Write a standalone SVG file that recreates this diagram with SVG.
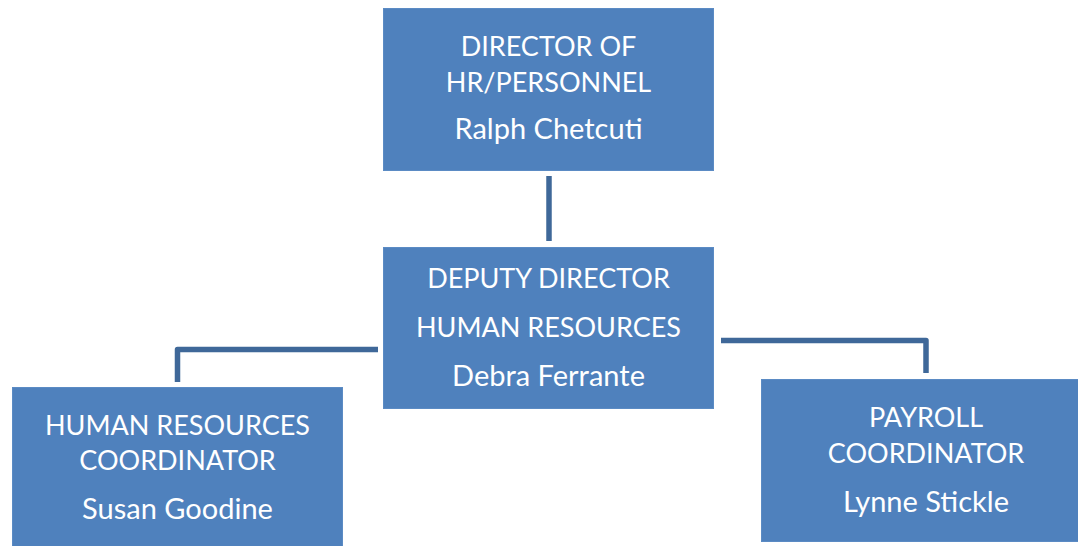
<svg xmlns="http://www.w3.org/2000/svg" width="1078" height="546" viewBox="0 0 1078 546">
<style>
.box{fill:#4F81BD;stroke:#5B8BC4;stroke-width:1}
.t{font-family:Lato,"Open Sans","Liberation Sans",sans-serif;font-size:27px;fill:#FFFFFF;text-anchor:middle}
.n{font-size:29px}
.c{fill:none;stroke:#3F6899;stroke-width:5.5;stroke-linejoin:round}
</style>
<rect width="1078" height="546" fill="#FFFFFF"/>
<g id="connectors">
<path class="c" d="M549 176 V241"/>
<path class="c" d="M378 349.5 H177.5 V382"/>
<path class="c" d="M721 340.5 H926 V373"/>
</g>
<g id="director">
<rect class="box" x="383.5" y="8.5" width="330" height="162"/>
<text class="t" x="548.5" y="56">DIRECTOR OF</text>
<text class="t" x="548.5" y="92">HR/PERSONNEL</text>
<text class="t n" x="548.5" y="139">Ralph Chetcuti</text>
</g>
<g id="deputy">
<rect class="box" x="383.5" y="247.5" width="330" height="161"/>
<text class="t" x="548.5" y="288">DEPUTY DIRECTOR</text>
<text class="t" x="548.5" y="337">HUMAN RESOURCES</text>
<text class="t n" x="548.5" y="386">Debra Ferrante</text>
</g>
<g id="hr-coordinator">
<rect class="box" x="12.5" y="387.5" width="330" height="165"/>
<text class="t" x="177.5" y="435">HUMAN RESOURCES</text>
<text class="t" x="177.5" y="470">COORDINATOR</text>
<text class="t n" x="177.5" y="519">Susan Goodine</text>
</g>
<g id="payroll-coordinator">
<rect class="box" x="761.5" y="379.5" width="330" height="162"/>
<text class="t" x="926" y="427">PAYROLL</text>
<text class="t" x="926" y="463">COORDINATOR</text>
<text class="t n" x="926" y="512">Lynne Stickle</text>
</g>
</svg>
